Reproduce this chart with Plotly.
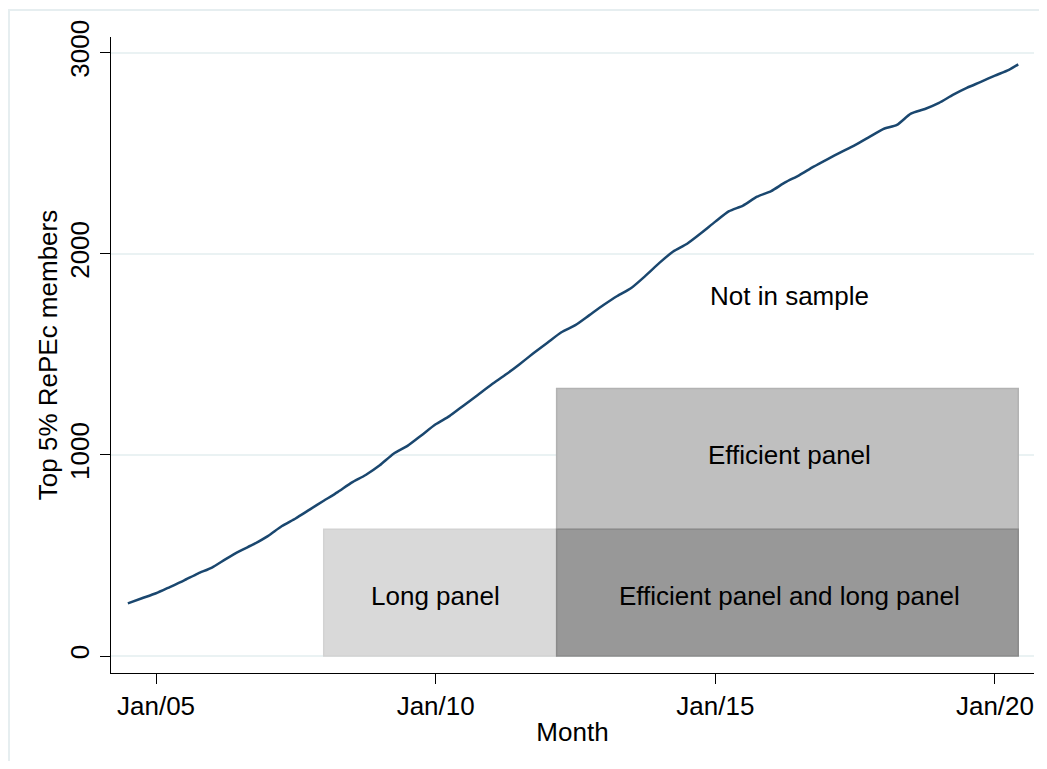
import plotly.graph_objects as go

# ---- data ----
months = ["2004-07-01","2004-10-01","2005-01-01","2005-04-01","2005-07-01","2005-10-01",
          "2006-01-01","2006-04-01","2006-07-01","2006-10-01","2007-01-01","2007-04-01",
          "2007-07-01","2007-10-01","2008-01-01","2008-04-01","2008-07-01","2008-10-01",
          "2009-01-01","2009-04-01","2009-07-01","2009-10-01","2010-01-01","2010-04-01",
          "2010-07-01","2010-10-01","2011-01-01","2011-04-01","2011-07-01","2011-10-01",
          "2012-01-01","2012-04-01","2012-07-01","2012-10-01","2013-01-01","2013-04-01",
          "2013-07-01","2013-10-01","2014-01-01","2014-04-01","2014-07-01","2014-10-01",
          "2015-01-01","2015-04-01","2015-07-01","2015-10-01","2016-01-01","2016-04-01",
          "2016-07-01","2016-10-01","2017-01-01","2017-04-01","2017-07-01","2017-10-01",
          "2018-01-01","2018-04-01","2018-07-01","2018-10-01","2019-01-01","2019-04-01",
          "2019-07-01","2019-10-01","2020-01-01","2020-04-01","2020-06-01"]
members = [262, 287, 312, 343, 375, 410,
           440, 482, 522, 556, 596, 645,
           684, 728, 772, 815, 862, 900,
           948, 1006, 1045, 1098, 1152, 1193,
           1245, 1297, 1350, 1398, 1450, 1505,
           1558, 1610, 1645, 1695, 1745, 1790,
           1830, 1890, 1955, 2011, 2050, 2103,
           2160, 2212, 2240, 2284, 2312, 2355,
           2390, 2432, 2470, 2505, 2540, 2580,
           2620, 2641, 2697, 2720, 2750, 2790,
           2825, 2855, 2886, 2915, 2942]

tick_dates = ["2005-01-01", "2010-01-01", "2015-01-01", "2020-01-01"]
tick_labels = ["Jan/05", "Jan/10", "Jan/15", "Jan/20"]
y_ticks = [0, 1000, 2000, 3000]

# regions: name, x0, x1, y0, y1
region_names = ["Long panel", "Efficient panel", "Efficient panel and long panel"]
region_x0 = ["2008-01-01", "2012-03-01", "2012-03-01"]
region_x1 = ["2012-03-01", "2020-06-01", "2020-06-01"]
region_y0 = [0, 630, 0]
region_y1 = [630, 1330, 630]
region_fill = ["#d9d9d9", "#bfbfbf", "#989898"]
region_line = ["#d2d2d2", "#b2b2b2", "#8a8a8a"]
label_x = ["2010-01-01", "2016-05-01", "2016-05-01"]
label_y = [300, 1000, 300]

extra_label = "Not in sample"
extra_x = "2016-05-01"
extra_y = 1790

FONT = "Liberation Sans, Arial, sans-serif"
FS = 26

fig = go.Figure()

for i in range(len(region_names)):
    fig.add_shape(type="rect", xref="x", yref="y",
                  x0=region_x0[i], x1=region_x1[i], y0=region_y0[i], y1=region_y1[i],
                  fillcolor=region_fill[i], line=dict(color=region_line[i], width=1.5),
                  layer="above")

fig.add_trace(go.Scatter(x=months, y=members, mode="lines",
                         line=dict(color="#1a476f", width=2.5, shape="spline", smoothing=0.6),
                         showlegend=False, hoverinfo="skip"))

for i in range(len(region_names)):
    fig.add_annotation(x=label_x[i], y=label_y[i], xref="x", yref="y", text=region_names[i],
                       showarrow=False, font=dict(family=FONT, size=FS, color="black"))
fig.add_annotation(x=extra_x, y=extra_y, xref="x", yref="y", text=extra_label,
                   showarrow=False, font=dict(family=FONT, size=FS, color="black"))

# page body has an 8px default margin; plot area spans page x 111..1034, y 37..673
W_PLOT = 1034 - 111
H_PLOT = 673 - 37
fig.add_shape(type="rect", xref="paper", yref="paper",
              x0=(9 - 111) / W_PLOT, x1=(1060 - 111) / W_PLOT,
              y0=(673 - 790) / H_PLOT, y1=(673 - 10) / H_PLOT,
              line=dict(color="#e6eef0", width=2), fillcolor="rgba(0,0,0,0)", layer="below")

fig.update_layout(
    width=1031, height=753,
    margin=dict(l=103, r=5, t=29, b=88, autoexpand=False),
    paper_bgcolor="white", plot_bgcolor="white",
    font=dict(family=FONT, size=FS, color="black"),
    showlegend=False,
)
fig.update_xaxes(type="date", range=["2004-03-13", "2020-09-12"],
                 tickvals=tick_dates, ticktext=tick_labels, automargin=False,
                 showline=True, linecolor="black", linewidth=1.3,
                 ticks="outside", ticklen=10, tickwidth=1.3, tickcolor="black",
                 showgrid=False, zeroline=False,
                 title=dict(text="Month", font=dict(family=FONT, size=FS), standoff=2),
                 tickfont=dict(family=FONT, size=FS))
fig.update_yaxes(range=[-84.5, 3078], tickvals=y_ticks, automargin=False,
                 showline=True, linecolor="black", linewidth=1.3,
                 ticks="outside", ticklen=10, tickwidth=1.3, tickcolor="black",
                 showgrid=True, gridcolor="#eaf2f3", gridwidth=1.5, zeroline=False,
                 tickangle=-90,
                 title=dict(text="Top 5% RePEc members", font=dict(family=FONT, size=FS), standoff=0),
                 tickfont=dict(family=FONT, size=FS))

fig.write_html("out.html")
